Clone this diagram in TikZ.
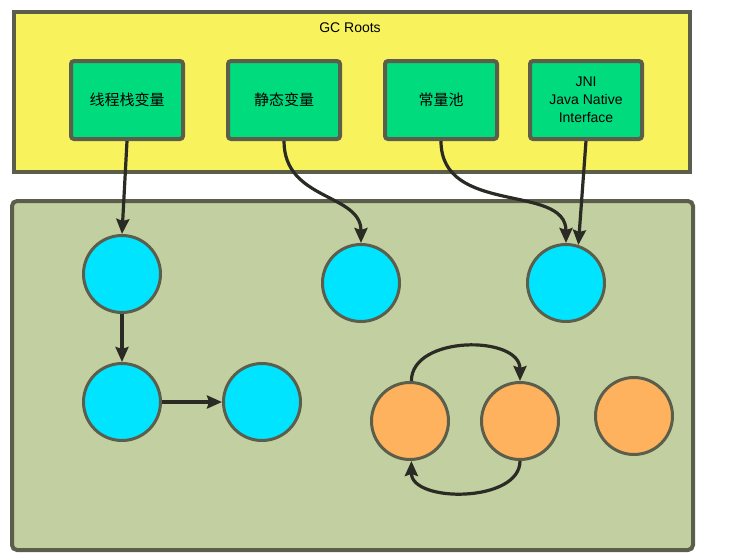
\documentclass[tikz,border=0pt]{standalone}
\usepackage{fontspec}
\setmainfont{Liberation Sans}
\newfontfamily\cjk{Noto Sans CJK SC}
\usetikzlibrary{arrows.meta}
\definecolor{rootyellow}{HTML}{F8F35C}
\definecolor{heapolive}{HTML}{C2CFA0}
\definecolor{edgegray}{HTML}{5B5E4B}
\definecolor{rootgreen}{HTML}{00DB7E}
\definecolor{objcyan}{HTML}{00E4FF}
\definecolor{objorange}{HTML}{FFB25D}
\definecolor{linkdark}{HTML}{2B2B25}
\begin{document}
\begin{tikzpicture}[x=1pt, y=-1pt, every node/.style={font=\fontsize{14}{18}\selectfont},
    rootbox/.style={draw=edgegray, line width=4pt, fill=rootgreen, rounded corners=3pt,
      minimum width=112pt, minimum height=78pt, align=center, inner sep=0pt},
    obj/.style={circle, draw=edgegray, line width=3pt, minimum size=77pt, inner sep=0pt},
    link/.style={draw=linkdark, line width=3.2pt, -{Stealth[length=15pt, width=13pt, inset=2pt]}}]
  \useasboundingbox (0,0) rectangle (740,560);
  % the two areas
  \draw[draw=edgegray, line width=4pt, fill=rootyellow] (14,12) rectangle (690,172);
  \draw[draw=edgegray, line width=4pt, fill=heapolive, rounded corners=5pt] (12,201) rectangle (693,550);
  \node (title) at (350,28) {GC Roots};
  % roots
  \node[rootbox] (stack) at (127,100) {\cjk\fontsize{15}{18}\selectfont 线程栈变量};
  \node[rootbox] (static) at (284,100) {\cjk\fontsize{15}{18}\selectfont 静态变量};
  \node[rootbox] (const) at (441,100) {\cjk\fontsize{15}{18}\selectfont 常量池};
  \node[rootbox] (jni) at (586,100) {JNI\\Java Native\\Interface};
  % objects
  \node[obj, fill=objcyan] (a) at (122,274) {};
  \node[obj, fill=objcyan] (b) at (361,283) {};
  \node[obj, fill=objcyan] (c) at (566,283) {};
  \node[obj, fill=objcyan] (d) at (122,402) {};
  \node[obj, fill=objcyan] (e) at (262,402) {};
  \node[obj, fill=objorange] (f) at (410,421) {};
  \node[obj, fill=objorange] (g) at (520,421) {};
  \node[obj, fill=objorange] (h) at (634,416) {};
  % references
  \draw[link] (stack.south) -- (a.north);
  \draw[link] (static.south) .. controls +(0,60) and +(0,-50) .. (b.north);
  \draw[link] (const.south) .. controls +(0,75) and +(0,-60) .. (c.north);
  \draw[link] (jni.south) -- (c.72);
  \draw[link] (a.south) -- (d.north);
  \draw[link] (d.east) -- (e.west);
  \draw[link] (f.88) .. controls +(0,-46) and +(0,-46) .. (g.north);
  \draw[link] (g.south) .. controls +(0,42) and +(0,42) .. (f.272);
\end{tikzpicture}
\end{document}
